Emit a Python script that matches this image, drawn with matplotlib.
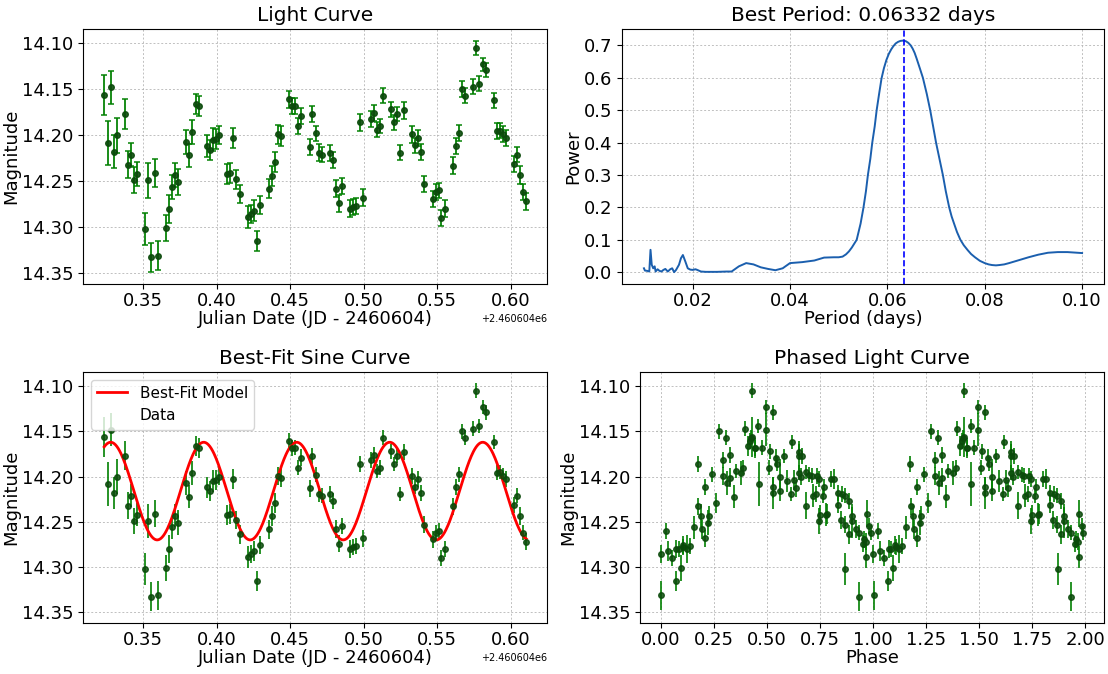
import numpy as np
import matplotlib
matplotlib.use('Agg')
import matplotlib.pyplot as plt
from matplotlib.lines import Line2D
from matplotlib.ticker import FormatStrFormatter

JD0 = 2460604
best_period = 0.06332
epoch = 0.3596          # phase zero (JD - 2460604)

# light curve (JD - 2460604)
t = [0.3234, 0.3257, 0.3277, 0.3298, 0.3318,
     0.3375, 0.3395, 0.3416, 0.3436, 0.3457,
     0.3514, 0.3534, 0.3555, 0.3577, 0.3598,
     0.3655, 0.3675, 0.3695, 0.3716, 0.3736,
     0.3793, 0.3814, 0.3834, 0.3857, 0.3877,
     0.3932, 0.3952, 0.3973, 0.3993, 0.4014,
     0.4070, 0.4091, 0.4114, 0.4134, 0.4157,
     0.4210, 0.4230, 0.4251, 0.4274, 0.4296,
     0.4353, 0.4373, 0.4394, 0.4414, 0.4435,
     0.4494, 0.4510, 0.4530, 0.4553, 0.4573,
     0.4632, 0.4650, 0.4673, 0.4693, 0.4714,
     0.4771, 0.4791, 0.4811, 0.4832, 0.4852,
     0.4909, 0.4930, 0.4950, 0.4973, 0.4993,
     0.5048, 0.5068, 0.5088, 0.5109, 0.5132,
     0.5188, 0.5209, 0.5229, 0.5250, 0.5274,
     0.5328, 0.5349, 0.5369, 0.5392, 0.5412,
     0.5469, 0.5490, 0.5510, 0.5530, 0.5551,
     0.5608, 0.5628, 0.5649, 0.5669, 0.5689,
     0.5746, 0.5767, 0.5787, 0.5810, 0.5830,
     0.5887, 0.5907, 0.5928, 0.5948, 0.5969,
     0.6025, 0.6046, 0.6066, 0.6087, 0.6107]
mag = [14.156, 14.208, 14.148, 14.218, 14.200,
       14.177, 14.232, 14.221, 14.249, 14.242,
       14.302, 14.249, 14.333, 14.241, 14.331,
       14.301, 14.280, 14.256, 14.243, 14.251,
       14.207, 14.222, 14.196, 14.166, 14.168,
       14.212, 14.216, 14.205, 14.204, 14.200,
       14.242, 14.241, 14.203, 14.248, 14.264,
       14.289, 14.286, 14.282, 14.3155, 14.276,
       14.258, 14.244, 14.229, 14.199, 14.201,
       14.161, 14.168, 14.168, 14.190, 14.179,
       14.213, 14.177, 14.198, 14.219, 14.221,
       14.219, 14.227, 14.258, 14.274, 14.255,
       14.280, 14.278, 14.277, 14.186, 14.268,
       14.182, 14.176, 14.194, 14.190, 14.157,
       14.172, 14.186, 14.177, 14.219, 14.173,
       14.199, 14.211, 14.203, 14.218, 14.253,
       14.2695, 14.262, 14.260, 14.290, 14.280,
       14.233, 14.2115, 14.1975, 14.150, 14.157,
       14.147, 14.105, 14.144, 14.123, 14.129,
       14.162, 14.1955, 14.195, 14.199, 14.2025,
       14.2315, 14.221, 14.2435, 14.262, 14.272]
err = [0.022, 0.024, 0.018, 0.018, 0.019,
       0.016, 0.015, 0.013, 0.014, 0.013,
       0.0175, 0.019, 0.016, 0.015, 0.016,
       0.0145, 0.015, 0.013, 0.013, 0.014,
       0.013, 0.013, 0.013, 0.011, 0.011,
       0.012, 0.011, 0.0125, 0.011, 0.0095,
       0.011, 0.011, 0.011, 0.010, 0.010,
       0.012, 0.010, 0.011, 0.011, 0.010,
       0.0105, 0.011, 0.011, 0.010, 0.0105,
       0.009, 0.009, 0.0085, 0.0087, 0.009,
       0.009, 0.009, 0.0085, 0.009, 0.0085,
       0.0087, 0.0087, 0.0095, 0.009, 0.009,
       0.0095, 0.009, 0.0087, 0.009, 0.0095,
       0.0087, 0.009, 0.008, 0.008, 0.008,
       0.008, 0.008, 0.008, 0.008, 0.009,
       0.009, 0.0085, 0.0087, 0.0087, 0.009,
       0.009, 0.0085, 0.0085, 0.009, 0.009,
       0.009, 0.0085, 0.0085, 0.0085, 0.008,
       0.008, 0.008, 0.008, 0.0075, 0.008,
       0.008, 0.0087, 0.008, 0.0085, 0.0087,
       0.0085, 0.0085, 0.0098, 0.0085, 0.0095]

# periodogram
period = [0.0100, 0.0102, 0.0107, 0.0111, 0.01135, 0.0116, 0.0119, 0.0122,
          0.0124, 0.0128, 0.0132, 0.0136, 0.0140, 0.0144, 0.0149, 0.0154,
          0.0158, 0.0162, 0.0166, 0.0172, 0.0176, 0.0180, 0.0185, 0.0190,
          0.0195, 0.0200, 0.0206, 0.0211, 0.0217, 0.0227, 0.0250, 0.0270,
          0.0280, 0.0295, 0.0310, 0.0325, 0.0340, 0.0355, 0.0370, 0.0385,
          0.0400, 0.0425, 0.0450, 0.0470, 0.0490, 0.0500, 0.0508, 0.0515,
          0.0521, 0.0527, 0.0532, 0.0537, 0.0541, 0.0545, 0.0548, 0.0551,
          0.0556, 0.0560, 0.0565, 0.0569, 0.0574, 0.0578, 0.0583, 0.0588,
          0.0593, 0.0598, 0.0603, 0.0608, 0.0612, 0.0617, 0.0622, 0.0627,
          0.0633, 0.0638, 0.0643, 0.0648, 0.0652, 0.0656, 0.0660, 0.0667,
          0.0673, 0.0681, 0.0688, 0.0694, 0.0700, 0.0707, 0.0714, 0.0720,
          0.0727, 0.0732, 0.0737, 0.0743, 0.0750, 0.0757, 0.0765, 0.0772,
          0.0780, 0.0790, 0.0800, 0.0808, 0.0815, 0.0823, 0.0830, 0.0840,
          0.0850, 0.0870, 0.0890, 0.0910, 0.0930, 0.0950, 0.0970, 0.0990,
          0.1000]
power = [0.012, 0.005, 0.004, 0.002, 0.069, 0.023, 0.012, 0.018,
         0.002, 0.009, 0.004, 0.002, 0.007, 0.010, 0.002, 0.009,
         0.012, 0.000, 0.007, 0.023, 0.043, 0.053, 0.033, 0.012,
         0.008, 0.007, 0.009, 0.006, 0.002, 0.001, 0.001, 0.002,
         0.002, 0.018, 0.028, 0.024, 0.015, 0.010, 0.006, 0.012,
         0.028, 0.031, 0.036, 0.045, 0.046, 0.046, 0.048, 0.055,
         0.064, 0.076, 0.088, 0.100, 0.125, 0.150, 0.175, 0.200,
         0.250, 0.300, 0.350, 0.400, 0.450, 0.500, 0.550, 0.598,
         0.630, 0.655, 0.674, 0.688, 0.697, 0.706, 0.711, 0.714,
         0.715, 0.713, 0.708, 0.700, 0.690, 0.677, 0.660, 0.628,
         0.600, 0.550, 0.500, 0.450, 0.400, 0.350, 0.300, 0.250,
         0.200, 0.172, 0.150, 0.124, 0.100, 0.083, 0.068, 0.056,
         0.046, 0.035, 0.028, 0.024, 0.022, 0.021, 0.022, 0.024,
         0.028, 0.037, 0.046, 0.054, 0.060, 0.062, 0.062, 0.060,
         0.059]

# best-fit sine parameters
fit_mean = 14.216
fit_amp = 0.054
fit_tmax = 0.3278

t = np.array(t)
mag = np.array(mag)
err = np.array(err)
jd = t + JD0

phase = ((t - epoch) / best_period) % 1
tfit = np.linspace(t.min(), t.max(), 600)
mfit = fit_mean - fit_amp * np.cos(2 * np.pi * (tfit - fit_tmax) / best_period)

TICK = 13
LAB = 13
TIT = 14.5

fig = plt.figure(figsize=(11.08, 6.74), dpi=100)
ax1 = fig.add_axes([0.075, 0.579, 0.419, 0.378])
ax2 = fig.add_axes([0.5614, 0.579, 0.435, 0.378])
ax3 = fig.add_axes([0.075, 0.076, 0.419, 0.372])
ax4 = fig.add_axes([0.5776, 0.076, 0.419, 0.372])

grid_kw = dict(color='#b0b0b0', linestyle=(0, (2, 2)), linewidth=0.7, alpha=0.8)
dark = '#0b4a0b'

# light curve
ax1.errorbar(jd, mag, yerr=err, fmt='o', color=dark, ecolor='green', ms=4,
             elinewidth=1.4, capsize=2.5, capthick=1.2, alpha=0.9)
ax1.invert_yaxis()
ax1.set_title('Light Curve', fontsize=TIT)
ax1.set_xlabel('Julian Date (JD - 2460604)', fontsize=LAB, labelpad=0)
ax1.set_ylabel('Magnitude', fontsize=LAB, labelpad=1)

# periodogram
ax2.plot(period, power, color='#1b5fae', lw=1.4)
ax2.axvline(best_period, color='blue', ls='--', lw=1.2)
ax2.set_title('Best Period: %.5f days' % best_period, fontsize=TIT)
ax2.set_xlabel('Period (days)', fontsize=LAB, labelpad=0)
ax2.set_ylabel('Power', fontsize=LAB, labelpad=1)
ax2.set_xticks([0.02, 0.04, 0.06, 0.08, 0.10])
ax2.set_yticks(np.arange(0, 0.71, 0.1))
ax2.yaxis.set_major_formatter(FormatStrFormatter('%.1f'))

# best-fit sine
ax3.errorbar(jd, mag, yerr=err, fmt='o', color=dark, ecolor='green', ms=4,
             elinewidth=1.4, alpha=0.85)
ax3.plot(tfit + JD0, mfit, color='red', lw=2, label='Best-Fit Model')
ax3.invert_yaxis()
ax3.set_title('Best-Fit Sine Curve', fontsize=TIT)
ax3.set_xlabel('Julian Date (JD - 2460604)', fontsize=LAB, labelpad=0)
ax3.set_ylabel('Magnitude', fontsize=LAB, labelpad=1)
h_fit = Line2D([], [], color='red', lw=2)
h_dat = Line2D([], [], linestyle='none')
ax3.legend([h_fit, h_dat], ['Best-Fit Model', 'Data'], loc='upper left', fontsize=11)

# phased light curve
ax4.errorbar(np.concatenate([phase, phase + 1]), np.concatenate([mag, mag]),
             yerr=np.concatenate([err, err]), fmt='o', color=dark, ecolor='green',
             ms=4, elinewidth=1.4, alpha=0.85)
ax4.invert_yaxis()
ax4.set_title('Phased Light Curve', fontsize=TIT)
ax4.set_xlabel('Phase', fontsize=LAB, labelpad=0)
ax4.set_ylabel('Magnitude', fontsize=LAB, labelpad=1)
ax4.set_xticks(np.arange(0, 2.01, 0.25))
ax4.xaxis.set_major_formatter(FormatStrFormatter('%.2f'))

for ax in (ax1, ax2, ax3, ax4):
    ax.grid(True, **grid_kw)
    ax.tick_params(labelsize=TICK)
    ax.tick_params(axis='x', pad=2.5)
    ax.xaxis.get_offset_text().set_fontsize(7)

for ax in (ax1, ax3, ax4):
    ax.set_yticks([14.10, 14.15, 14.20, 14.25, 14.30, 14.35])
    ax.yaxis.set_major_formatter(FormatStrFormatter('%.2f'))

plt.savefig('out.png', dpi=100)
